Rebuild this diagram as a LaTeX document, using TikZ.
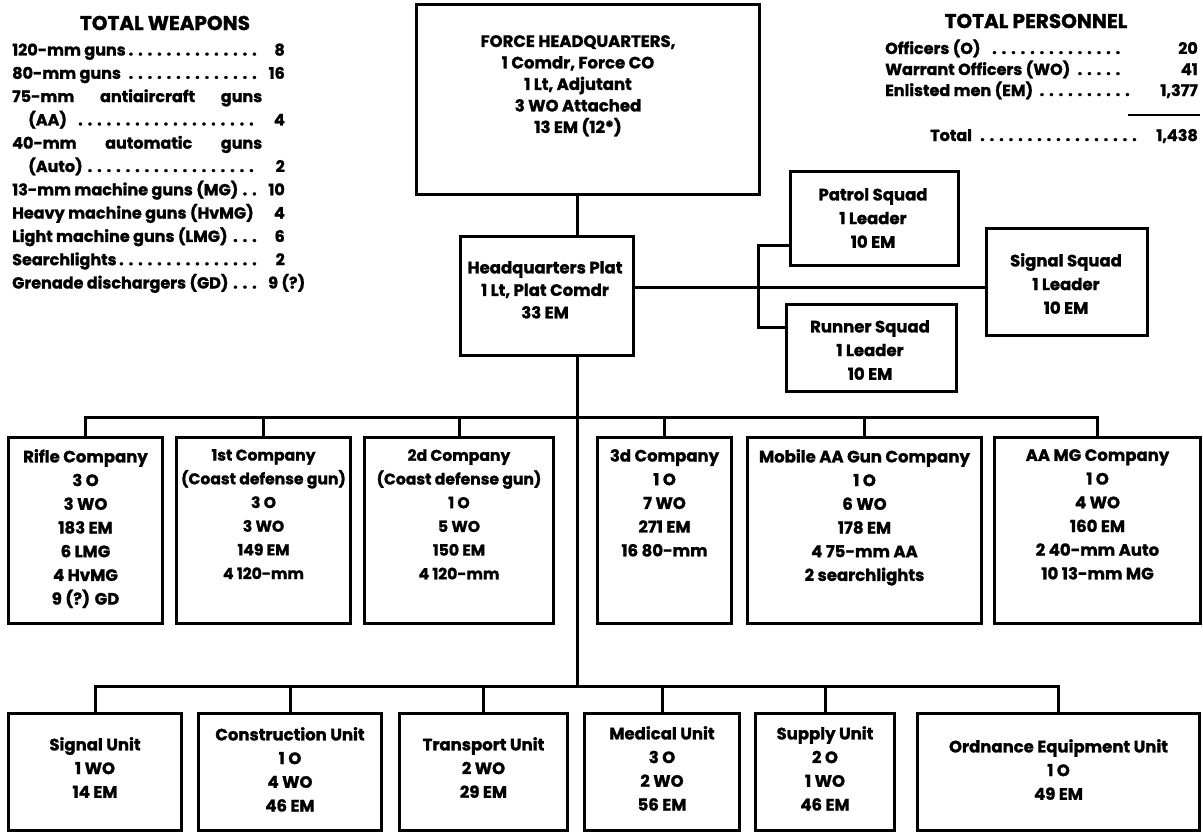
\documentclass[tikz,border=0pt]{standalone}
\usepackage{fontspec}
\setmainfont{Poppins}[BoldFeatures={FakeBold=1.3}]
\newcommand\dotlead{\leaders\hbox to 9.5pt{\hss.\hss}\hfill}
\tikzset{
  org/.style={draw, line width=3pt, anchor=north west, inner sep=0pt},
  txt/.style={font=\fontsize{16.5}{23.7}\selectfont\bfseries, align=center, inner sep=0pt, anchor=north},
  narrow/.style={font=\fontsize{15.6}{23.7}\selectfont\bfseries},
  link/.style={line width=3pt},
  tab/.style={font=\fontsize{16}{20}\selectfont\bfseries, inner sep=0pt, anchor=base west},
  num/.style={font=\fontsize{16}{20}\selectfont\bfseries, inner sep=0pt, anchor=base east},
  head/.style={font=\fontsize{20}{22}\selectfont\bfseries, inner sep=0pt},
}
\begin{document}
\begin{tikzpicture}[x=1pt,y=-1pt]
\useasboundingbox (0,0) rectangle (1203,833);
\fill[white] (0,0) rectangle (1203,833);

% ---- boxes ----
\node[org, minimum width=343pt, minimum height=190pt] (fhq) at (415,3) {};
\node[org, minimum width=173pt, minimum height=119pt] (hqp) at (459,235) {};
\node[org, minimum width=168pt, minimum height=94pt] (patrol) at (789,170) {};
\node[org, minimum width=170pt, minimum height=87pt] (runner) at (785,303) {};
\node[org, minimum width=161pt, minimum height=107pt] (sigsq) at (985,227) {};

\node[org, minimum width=154pt, minimum height=186pt] (rifle) at (7,436) {};
\node[org, minimum width=174pt, minimum height=186pt] (first) at (175,436) {};
\node[org, minimum width=189pt, minimum height=186pt] (second) at (363,436) {};
\node[org, minimum width=134pt, minimum height=186pt] (third) at (596,436) {};
\node[org, minimum width=234pt, minimum height=186pt] (mobile) at (746,436) {};
\node[org, minimum width=206pt, minimum height=186pt] (aamg) at (993,436) {};

\node[org, minimum width=173pt, minimum height=117pt] (sigu) at (7,712) {};
\node[org, minimum width=183pt, minimum height=117pt] (consu) at (197,712) {};
\node[org, minimum width=168pt, minimum height=117pt] (tranu) at (398,712) {};
\node[org, minimum width=155pt, minimum height=117pt] (medu) at (583,712) {};
\node[org, minimum width=139pt, minimum height=117pt] (supu) at (754,712) {};
\node[org, minimum width=282pt, minimum height=117pt] (ordu) at (916,712) {};

% ---- box texts ----
\node[txt, font=\fontsize{16.5}{21.5}\selectfont\bfseries] (fhqT) at (578,35) {FORCE HEADQUARTERS,\\1 Comdr, Force CO\\1 Lt, Adjutant\\3 WO Attached\\13 EM (12*)};
\node[txt, font=\fontsize{16.5}{22.5}\selectfont\bfseries] (hqpT) at (545,261) {Headquarters Plat\\1 Lt, Plat Comdr\\33 EM};
\node[txt] (patrolT) at (873,188) {Patrol Squad\\1 Leader\\10 EM};
\node[txt] (runnerT) at (870,320) {Runner Squad\\1 Leader\\10 EM};
\node[txt] (sigsqT) at (1066,253) {Signal Squad\\1 Leader\\10 EM};

\node[txt] (rifleT) at (rifle.north |- 0,449) {Rifle Company\\3 O\\3 WO\\183 EM\\6 LMG\\4 HvMG\\9 (?) GD};
\node[txt, narrow] (firstT) at (first.north |- 0,449) {1st Company\\(Coast defense gun)\\3 O\\3 WO\\149 EM\\4 120-mm};
\node[txt, narrow] (secondT) at (second.north |- 0,449) {2d Company\\(Coast defense gun)\\1 O\\5 WO\\150 EM\\4 120-mm};
\node[txt] (thirdT) at (third.north |- 0,449) {3d Company\\1 O\\7 WO\\271 EM\\16 80-mm};
\node[txt] (mobileT) at (mobile.north |- 0,449) {Mobile AA Gun Company\\1 O\\6 WO\\178 EM\\4 75-mm AA\\2 searchlights};
\node[txt] (aamgT) at (aamg.north |- 0,449) {AA MG Company\\1 O\\4 WO\\160 EM\\2 40-mm Auto\\10 13-mm MG};

\node[txt] (siguT) at (sigu.north |- 0,737) {Signal Unit\\1 WO\\14 EM};
\node[txt] (consuT) at (consu.north |- 0,727) {Construction Unit\\1 O\\4 WO\\46 EM};
\node[txt] (tranuT) at (tranu.north |- 0,737) {Transport Unit\\2 WO\\29 EM};
\node[txt] (meduT) at (medu.north |- 0,726) {Medical Unit\\3 O\\2 WO\\56 EM};
\node[txt] (supuT) at (supu.north |- 0,726) {Supply Unit\\2 O\\1 WO\\46 EM};
\node[txt] (orduT) at (ordu.north |- 0,739) {Ordnance Equipment Unit\\1 O\\49 EM};

% ---- connectors ----
\coordinate (tr) at (577,0);
\coordinate (cb) at (0,417);
\coordinate (ub) at (0,686);
\coordinate (sq) at (0,287);
\coordinate (bt) at (758,245);
\coordinate (bb) at (758,327);

\draw[link] (fhq.south -| tr) -- (hqp.north -| tr);
\draw[link] (hqp.south -| tr) -- (ub -| tr);
\draw[link] (hqp.east |- sq) -- (sigsq.west |- sq);
\draw[link] (patrol.west |- bt) -- (bt) -- (bb) -- (runner.west |- bb);

\draw[link] (rifle.north) -- (rifle.north |- cb) -- (aamg.north |- cb) -- (aamg.north);
\foreach \n in {first,second,third,mobile} \draw[link] (\n.north) -- (\n.north |- cb);

\draw[link] (sigu.north) -- (sigu.north |- ub) -- (ordu.north |- ub) -- (ordu.north);
\foreach \n in {consu,tranu,medu,supu} \draw[link] (\n.north) -- (\n.north |- ub);

% ---- weapons table ----
\node[head] (wh) at (165,23) {TOTAL WEAPONS};
\node[tab] (w1) at (12,55.5) {\makebox[250pt][l]{120-mm guns\dotlead}};
\node[num] (n1) at (285,55.5) {8};
\node[tab] (w2) at (12,78.8) {\makebox[250pt][l]{80-mm guns\dotlead}};
\node[num] (n2) at (285,78.8) {16};
\node[tab] (w3) at (12,102.1) {\makebox[250pt][s]{75-mm antiaircraft guns}};
\node[tab] (w4) at (28,125.4) {\makebox[234pt][l]{(AA)\dotlead}};
\node[num] (n4) at (285,125.4) {4};
\node[tab] (w5) at (12,148.7) {\makebox[250pt][s]{40-mm automatic guns}};
\node[tab] (w6) at (28,172) {\makebox[234pt][l]{(Auto)\dotlead}};
\node[num] (n6) at (285,172) {2};
\node[tab] (w7) at (12,195.3) {\makebox[250pt][l]{13-mm machine guns (MG)\dotlead}};
\node[num] (n7) at (285,195.3) {10};
\node[tab] (w8) at (12,218.6) {Heavy machine guns (HvMG)};
\node[num] (n8) at (285,218.6) {4};
\node[tab] (w9) at (12,241.9) {\makebox[250pt][l]{Light machine guns (LMG)\dotlead}};
\node[num] (n9) at (285,241.9) {6};
\node[tab] (w10) at (12,265.2) {\makebox[250pt][l]{Searchlights\dotlead}};
\node[num] (n10) at (285,265.2) {2};
\node[tab] (w11) at (12,288.5) {\makebox[248pt][l]{Grenade dischargers (GD)\dotlead}};
\node[tab] (n11) at (268,288.5) {9 (?)};

% ---- personnel table ----
\node[head] (ph) at (1036,21) {TOTAL PERSONNEL};
\node[tab] (p1) at (885,54) {\makebox[245pt][l]{Officers (O)\dotlead}};
\node[num] (q1) at (1198,54) {20};
\node[tab] (p2) at (885,75) {\makebox[245pt][l]{Warrant Officers (WO)\dotlead}};
\node[num] (q2) at (1198,75) {41};
\node[tab] (p3) at (885,96) {\makebox[255pt][l]{Enlisted men (EM)\dotlead}};
\node[num] (q3) at (1198,96) {1,377};
\coordinate (r1) at (1128,115);
\coordinate (r2) at (1200,115);
\draw[line width=2.2pt] (r1) -- (r2);
\node[tab] (p4) at (930,141) {\makebox[210pt][l]{Total\dotlead}};
\node[num] (q4) at (1198,141) {1,438};
\end{tikzpicture}
\end{document}
